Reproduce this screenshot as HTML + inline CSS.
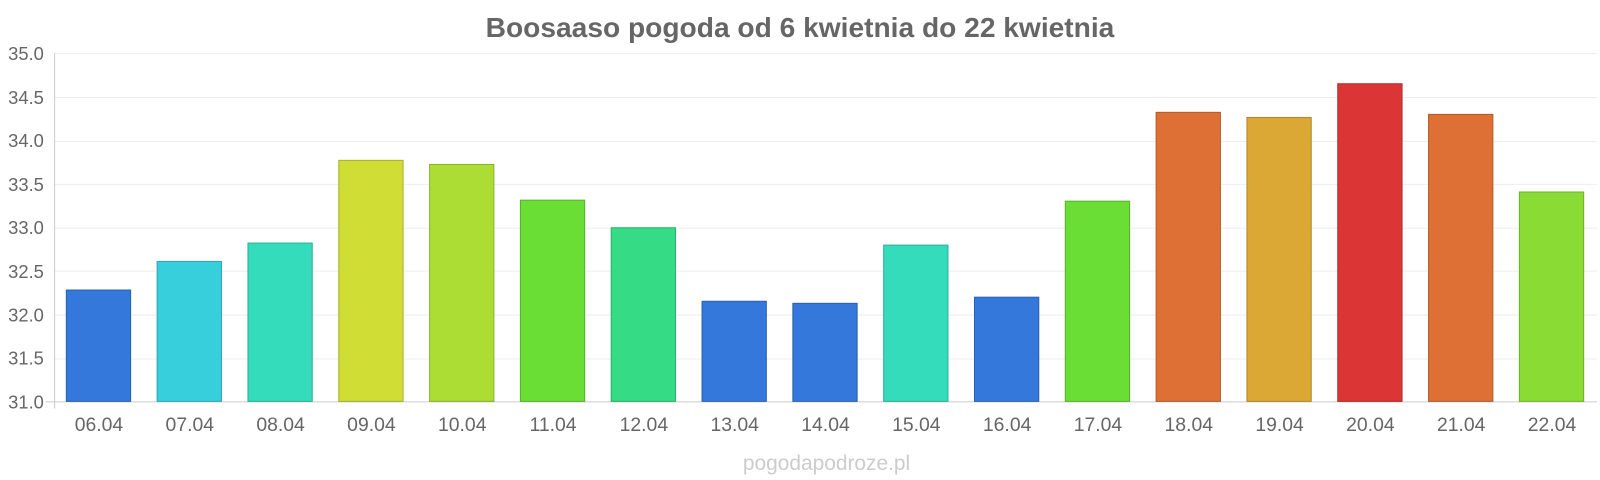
<!DOCTYPE html>
<html><head><meta charset="utf-8"><style>
body{margin:0;background:#fff;}
svg{display:block;font-family:"Liberation Sans",sans-serif;}
</style></head><body>
<svg width="1600" height="480" viewBox="0 0 1568 470" preserveAspectRatio="none">
<text x="784" y="36" text-anchor="middle" font-size="27.6" font-weight="bold" fill="#666">Boosaaso pogoda od 6 kwietnia do 22 kwietnia</text>
<g stroke="#eee" stroke-width="1">
<line x1="53" x2="1565" y1="52.5" y2="52.5"/>
<line x1="53" x2="1565" y1="95.5" y2="95.5"/>
<line x1="53" x2="1565" y1="138.5" y2="138.5"/>
<line x1="53" x2="1565" y1="180.5" y2="180.5"/>
<line x1="53" x2="1565" y1="223.5" y2="223.5"/>
<line x1="53" x2="1565" y1="265.5" y2="265.5"/>
<line x1="53" x2="1565" y1="308.5" y2="308.5"/>
<line x1="53" x2="1565" y1="351.5" y2="351.5"/>
</g>
<line x1="53.5" x2="53.5" y1="52" y2="400" stroke="#ccc"/>
<line x1="45" x2="1565" y1="393.5" y2="393.5" stroke="#ccc"/>
<g font-size="18" fill="#666" text-anchor="end">
<text x="43" y="59">35.0</text><text x="43" y="102">34.5</text><text x="43" y="144">34.0</text>
<text x="43" y="187">33.5</text><text x="43" y="229">33.0</text><text x="43" y="272">32.5</text>
<text x="43" y="315">32.0</text><text x="43" y="357">31.5</text><text x="43" y="400">31.0</text>
</g>
<g stroke-width="1">
<rect x="65" y="284" width="63" height="109" fill="#3578dc" stroke="#2a60b0"/>
<rect x="154" y="256" width="63" height="137" fill="#38cfdc" stroke="#2da5b0"/>
<rect x="243" y="238" width="63" height="155" fill="#34dcbb" stroke="#2ab096"/>
<rect x="332" y="157" width="63" height="236" fill="#cfdd35" stroke="#a5b12a"/>
<rect x="421" y="161" width="63" height="232" fill="#acdd35" stroke="#8ab12a"/>
<rect x="510" y="196" width="63" height="197" fill="#6ade35" stroke="#55b12a"/>
<rect x="599" y="223" width="63" height="170" fill="#35dc85" stroke="#2ab06a"/>
<rect x="688" y="295" width="63" height="98" fill="#3578dc" stroke="#2a60b0"/>
<rect x="777" y="297" width="63" height="96" fill="#3578dc" stroke="#2a60b0"/>
<rect x="866" y="240" width="63" height="153" fill="#34dcbb" stroke="#2ab096"/>
<rect x="955" y="291" width="63" height="102" fill="#3578dc" stroke="#2a60b0"/>
<rect x="1044" y="197" width="63" height="196" fill="#6ade35" stroke="#55b12a"/>
<rect x="1133" y="110" width="63" height="283" fill="#df7035" stroke="#b25a2a"/>
<rect x="1222" y="115" width="63" height="278" fill="#dca835" stroke="#b0862a"/>
<rect x="1311" y="82" width="63" height="311" fill="#dc3535" stroke="#b02a2a"/>
<rect x="1400" y="112" width="63" height="281" fill="#df7035" stroke="#b25a2a"/>
<rect x="1489" y="188" width="63" height="205" fill="#8adc35" stroke="#6eb02a"/>
</g>
<g font-size="19" fill="#666" text-anchor="middle">
<text x="97" y="422">06.04</text><text x="186" y="422">07.04</text><text x="275" y="422">08.04</text>
<text x="364" y="422">09.04</text><text x="453" y="422">10.04</text><text x="542" y="422">11.04</text>
<text x="631" y="422">12.04</text><text x="720" y="422">13.04</text><text x="809" y="422">14.04</text>
<text x="898" y="422">15.04</text><text x="987" y="422">16.04</text><text x="1076" y="422">17.04</text>
<text x="1165" y="422">18.04</text><text x="1254" y="422">19.04</text><text x="1343" y="422">20.04</text>
<text x="1432" y="422">21.04</text><text x="1521" y="422">22.04</text>
</g>
<text x="810" y="460" text-anchor="middle" font-size="20.5" fill="#ccc">pogodapodroze.pl</text>
</svg>
</body></html>
